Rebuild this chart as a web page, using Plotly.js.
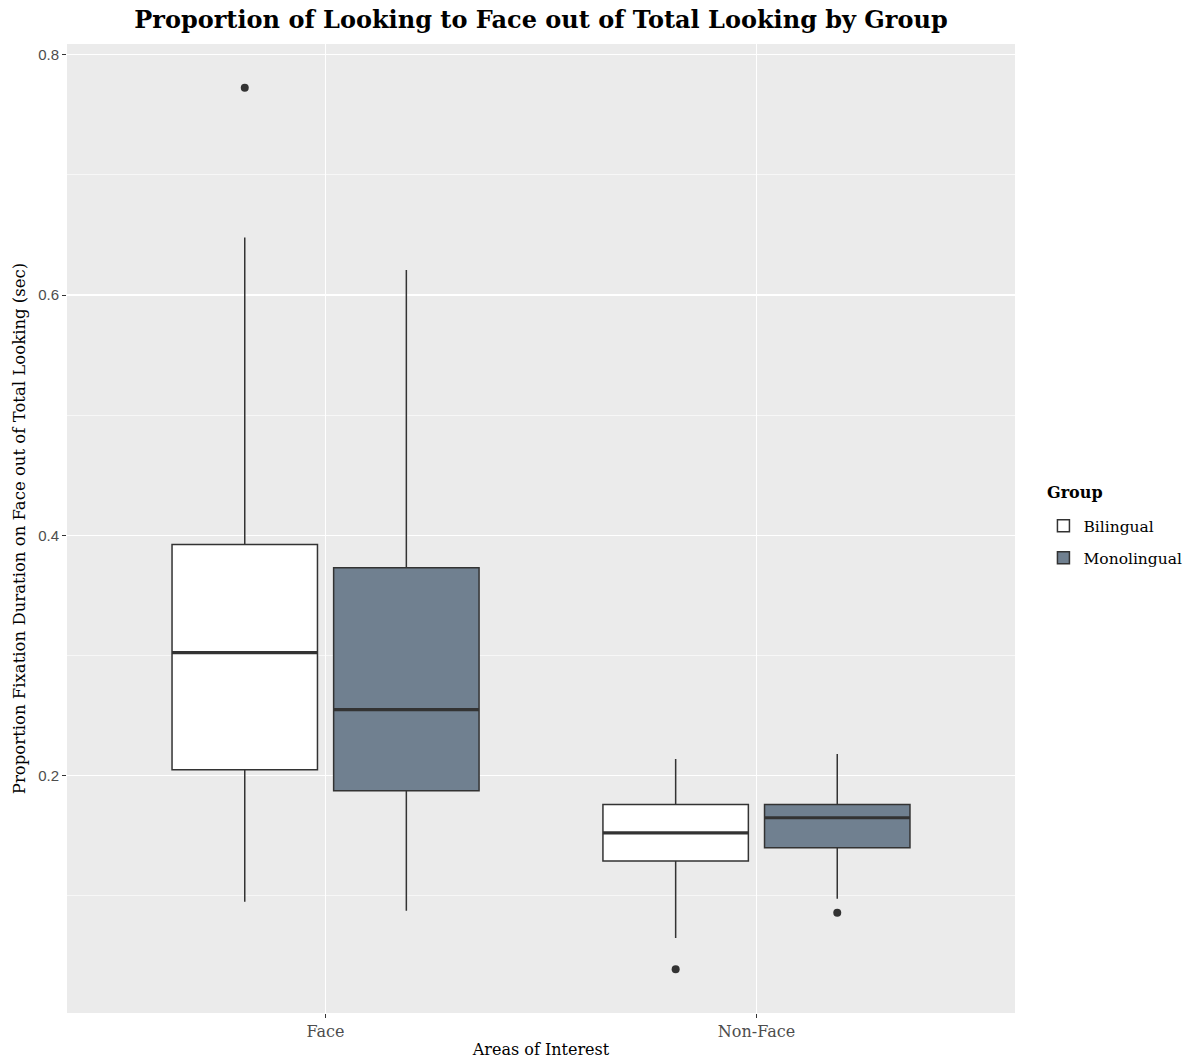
<!DOCTYPE html>
<html>
<head>
<meta charset="utf-8">
<script src="https://cdn.plot.ly/plotly-3.0.1.min.js"></script>
<style>html,body{margin:0;padding:0;background:#fff;}#chart{width:1195px;height:1059px;}</style>
</head>
<body>
<div id="chart"></div>
<script>
// Data
const categories = ["Face", "Non-Face"];
const groups = ["Bilingual", "Monolingual"];
const bilingualLower   = [0.095, 0.065];
const bilingualQ1      = [0.205, 0.129];
const bilingualMedian  = [0.3025, 0.1525];
const bilingualQ3      = [0.3925, 0.176];
const bilingualUpper   = [0.648, 0.214];
const bilingualOutliers = [[0.7725], [0.039]];
const monolingualLower   = [0.0875, 0.0975];
const monolingualQ1      = [0.1875, 0.14];
const monolingualMedian  = [0.255, 0.165];
const monolingualQ3      = [0.373, 0.176];
const monolingualUpper   = [0.621, 0.218];
const monolingualOutliers = [[], [0.086]];
const yTicks = [0.2, 0.4, 0.6, 0.8];

const fills = ["#ffffff", "#708090"];
const lineCol = "#333333";
const dodge = 0.1875;
const boxW = 0.3375;
const serif = "DejaVu Serif, Liberation Serif, serif";

const series = [
  {lower: bilingualLower, q1: bilingualQ1, med: bilingualMedian, q3: bilingualQ3, upper: bilingualUpper, out: bilingualOutliers},
  {lower: monolingualLower, q1: monolingualQ1, med: monolingualMedian, q3: monolingualQ3, upper: monolingualUpper, out: monolingualOutliers}
];

const traces = [];
series.forEach((s, g) => {
  const off = (g === 0 ? -dodge : dodge);
  const xs = categories.map((c, i) => i + 1 + off);
  traces.push({
    type: "box", name: groups[g], x: xs,
    q1: s.q1, median: s.med, q3: s.q3, lowerfence: s.lower, upperfence: s.upper,
    width: boxW, whiskerwidth: 0, boxpoints: false,
    fillcolor: fills[g], line: {color: lineCol, width: 1.5},
    hoverinfo: "skip", legendgroup: groups[g]
  });
  // thick median lines
  const mx = [], my = [];
  xs.forEach((x, i) => { mx.push(x - boxW / 2, x + boxW / 2, null); my.push(s.med[i], s.med[i], null); });
  traces.push({type: "scatter", mode: "lines", x: mx, y: my, line: {color: lineCol, width: 3.2},
    showlegend: false, hoverinfo: "skip", legendgroup: groups[g]});
  // outliers
  const ox = [], oy = [];
  xs.forEach((x, i) => s.out[i].forEach(v => { ox.push(x); oy.push(v); }));
  traces.push({type: "scatter", mode: "markers", x: ox, y: oy,
    marker: {color: lineCol, size: 8}, showlegend: false, hoverinfo: "skip", legendgroup: groups[g]});
});

const layout = {
  width: 1195, height: 1059,
  margin: {l: 67, r: 180, t: 44, b: 46, autoexpand: false},
  paper_bgcolor: "#ffffff", plot_bgcolor: "#ebebeb",
  showlegend: true,
  title: {text: "<b>Proportion of Looking to Face out of Total Looking by Group</b>",
    font: {family: serif, size: 24, color: "#000"},
    x: 0.5, xref: "paper", xanchor: "center", y: 1 - 20 / 1059, yref: "container", yanchor: "middle"},
  xaxis: {
    range: [0.4, 2.6], tickvals: categories.map((c, i) => i + 1), ticktext: categories,
    showgrid: true, gridcolor: "#ffffff", gridwidth: 1.3, zeroline: false, showline: false,
    ticks: "outside", ticklen: 4, tickwidth: 1.1, tickcolor: lineCol,
    tickfont: {family: serif, size: 16, color: "#4d4d4d"},
    title: {text: "Areas of Interest", font: {family: serif, size: 16, color: "#000"}, standoff: 5},
    automargin: false, fixedrange: true
  },
  yaxis: {
    range: [0.0025, 0.809], tickvals: yTicks, ticktext: yTicks.map(v => v.toFixed(1)),
    showgrid: true, gridcolor: "#ffffff", gridwidth: 1.3, zeroline: false, showline: false,
    minor: {dtick: 0.1, tick0: 0, showgrid: true, gridcolor: "#ffffff", gridwidth: 0.6, ticks: ""},
    ticks: "outside", ticklen: 4, tickwidth: 1.1, tickcolor: lineCol,
    tickfont: {family: "Liberation Sans, Arial, sans-serif", size: 15, color: "#4d4d4d"},
    title: {text: "Proportion Fixation Duration on Face out of Total Looking (sec)", font: {family: serif, size: 16.5, color: "#000"}, standoff: 8},
    automargin: false, fixedrange: true
  },
  legend: {
    x: 1.03, xanchor: "left", y: 0.520, yanchor: "top",
    font: {family: serif, size: 15.5, color: "#000"},
    bgcolor: "rgba(0,0,0,0)", itemwidth: 30, tracegroupgap: 9
  },
  annotations: [{
    text: "<b>Group</b>", xref: "paper", yref: "paper", x: (1045 - 67) / 948, y: (1013 - 492) / 969,
    xanchor: "left", yanchor: "middle", showarrow: false,
    font: {family: serif, size: 16, color: "#000"}
  }]
};

Plotly.newPlot("chart", traces, layout, {displayModeBar: false, staticPlot: true});
</script>
</body>
</html>
